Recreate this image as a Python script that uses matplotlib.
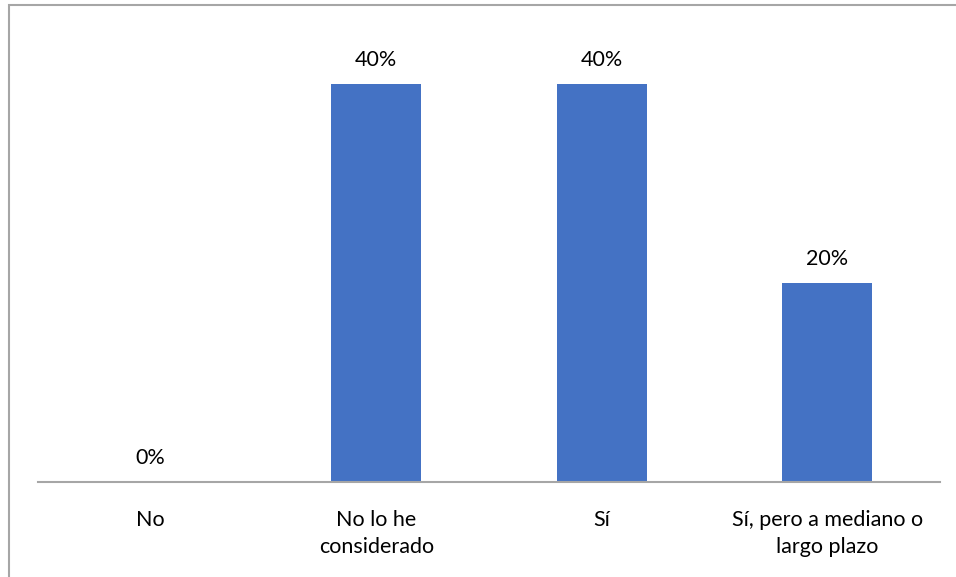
import matplotlib
matplotlib.use("Agg")
import matplotlib.pyplot as plt
from matplotlib.patches import Rectangle

categories = ["No", "No lo he\nconsiderado", "Sí", "Sí, pero a mediano o\nlargo plazo"]
values = [0.0, 0.40, 0.40, 0.20]
labels = ["0%", "40%", "40%", "20%"]

W, H = 956, 577
fig = plt.figure(figsize=(W/100, H/100), dpi=100)
plt.rcParams['font.family'] = ['Lato', 'DejaVu Sans']

left, right, bottom, top = 38, 940, 482, 30
ax = fig.add_axes([left/W, (H-bottom)/H, (right-left)/W, (bottom-top)/H])
x = list(range(len(categories)))
ax.bar(x, values, width=0.4, color="#4472C4")
ax.set_xlim(-0.5, len(categories)-0.5)
ymax = 0.40 * (bottom-top) / (482-84)
ax.set_ylim(0, ymax)
for xi, v, lab in zip(x, values, labels):
    ax.annotate(lab, (xi, v), xytext=(0, 14), textcoords="offset pixels",
                ha="center", va="bottom", fontsize=15.5, color="#000000")
for s in ["top", "right", "left"]:
    ax.spines[s].set_visible(False)
ax.spines["bottom"].set_color("#A6A6A6")
ax.spines["bottom"].set_linewidth(1.5)
ax.set_yticks([])
ax.set_xticks(x)
ax.set_xticklabels(categories, fontsize=15.5, color="#000000", linespacing=1.45)
ax.tick_params(axis="x", length=0, pad=20)

# outer chart border (only top & left visible)
fig.patches.append(Rectangle((8.5/W, -0.1), 1.2, (H-5)/H + 0.1, transform=fig.transFigure,
                             fill=False, edgecolor="#A6A6A6", linewidth=1.5))
fig.savefig("out.png", dpi=100)
